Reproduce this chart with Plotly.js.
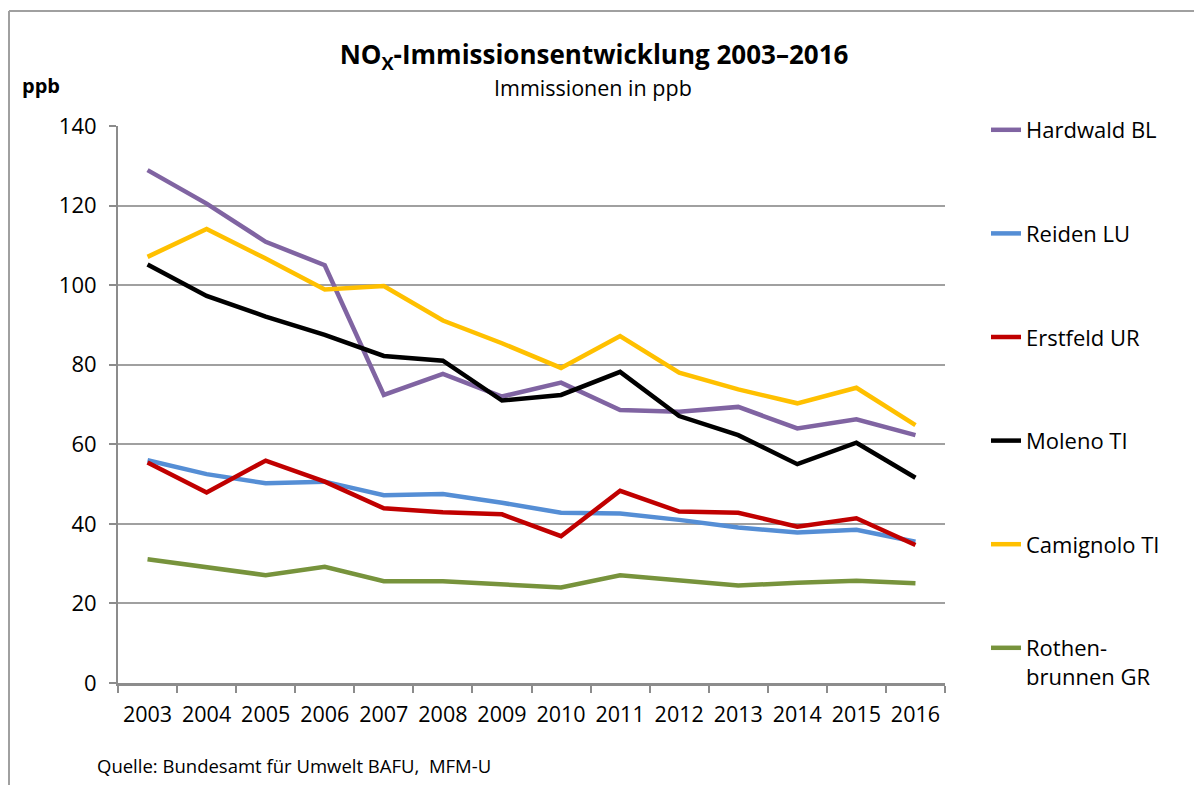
<!DOCTYPE html>
<html>
<head>
<meta charset="utf-8">
<script src="https://cdn.plot.ly/plotly-3.0.1.min.js"></script>
<style>html,body{margin:0;padding:0;background:#fff;}#chart{width:1194px;height:785px;}</style>
</head>
<body>
<div id="chart"></div>
<script>
const years = ["2003","2004","2005","2006","2007","2008","2009","2010","2011","2012","2013","2014","2015","2016"];
const seriesNames = ["Hardwald BL","Reiden LU","Erstfeld UR","Moleno TI","Camignolo TI","Rothen-<br>brunnen GR"];
const hardwald = [128.9,120.5,110.9,105.0,72.4,77.7,72.0,75.5,68.6,68.2,69.4,64.0,66.3,62.3];
const reiden = [56.0,52.5,50.2,50.6,47.2,47.5,45.3,42.8,42.6,41.0,39.1,37.8,38.5,35.5];
const erstfeld = [55.4,47.9,55.9,50.6,43.9,42.9,42.4,36.9,48.3,43.1,42.8,39.3,41.4,34.7];
const moleno = [105.2,97.3,92.1,87.5,82.2,81.0,71.0,72.4,78.2,67.1,62.3,55.0,60.4,51.6];
const camignolo = [107.1,114.1,106.7,98.9,99.8,91.1,85.4,79.2,87.2,78.0,73.8,70.3,74.2,64.8];
const rothenbrunnen = [31.1,29.2,27.1,29.2,25.6,25.6,24.8,24.0,27.1,25.9,24.5,25.2,25.7,25.1];
const seriesValues = [hardwald, reiden, erstfeld, moleno, camignolo, rothenbrunnen];
const colors = ["#8064A2","#558ED5","#C00000","#000000","#FFC000","#77933C"];

const FONT = "Open Sans, Noto Sans, sans-serif";

const traces = seriesValues.map((vals, i) => ({
  type: "scatter",
  mode: "lines",
  x: years,
  y: vals,
  name: seriesNames[i],
  legendgroup: "g" + i,
  line: {color: colors[i], width: 4.5},
  hoverinfo: "skip"
}));

const px = v => (v - 118) / 827;
const py = v => (683 - v) / 557;

const layout = {
  width: 1194,
  height: 785,
  margin: {l: 118, r: 249, t: 126, b: 102, pad: 0},
  paper_bgcolor: "#ffffff",
  plot_bgcolor: "#ffffff",
  font: {family: FONT, color: "#000000", size: 20},
  showlegend: true,
  title: {
    text: "<b>NO<sub>X</sub>-Immissionsentwicklung 2003–2016</b>",
    font: {family: FONT, size: 26, color: "#000000"},
    xref: "paper", x: px(594), xanchor: "center",
    yref: "container", y: 1 - 55 / 785, yanchor: "middle"
  },
  xaxis: {
    type: "category",
    range: [-0.5, 13.5],
    showgrid: false,
    zeroline: false,
    showline: true,
    linecolor: "#8C8C8C",
    linewidth: 3,
    ticks: "outside",
    tickson: "boundaries",
    ticklen: 7,
    tickwidth: 2,
    tickcolor: "#8C8C8C",
    tickangle: 0,
    tickfont: {family: FONT, size: 21.5, color: "#000000"},
    ticklabelstandoff: 10,
    fixedrange: true
  },
  yaxis: {
    range: [0, 140],
    tick0: 0,
    dtick: 20,
    showgrid: true,
    gridcolor: "#A0A0A0",
    gridwidth: 2,
    zeroline: false,
    showline: true,
    linecolor: "#8C8C8C",
    linewidth: 2,
    ticks: "outside",
    ticklen: 7,
    tickwidth: 2,
    tickcolor: "#8C8C8C",
    tickfont: {family: FONT, size: 22, color: "#000000"},
    ticklabelstandoff: 8,
    fixedrange: true
  },
  legend: {
    x: px(986), xanchor: "left",
    y: py(109), yanchor: "top",
    font: {family: FONT, size: 22, color: "#000000"},
    traceorder: "grouped",
    tracegroupgap: 72,
    valign: "top",
    maxheight: 700,
    bgcolor: "rgba(0,0,0,0)",
    borderwidth: 0
  },
  annotations: [
    {text: "Immissionen in ppb", xref: "paper", yref: "paper", x: px(593), y: py(88), xanchor: "center", yanchor: "middle", showarrow: false, font: {family: FONT, size: 21.5, color: "#000000"}},
    {text: "<b>ppb</b>", xref: "paper", yref: "paper", x: px(20), y: py(86), xanchor: "left", yanchor: "middle", showarrow: false, font: {family: FONT, size: 20, color: "#000000"}},
    {text: "Quelle: Bundesamt für Umwelt BAFU,  MFM-U", xref: "paper", yref: "paper", x: px(95), y: py(765), xanchor: "left", yanchor: "middle", showarrow: false, font: {family: FONT, size: 18.5, color: "#000000"}}
  ],
  shapes: [
    {type: "line", xref: "paper", yref: "paper", x0: px(9), x1: px(1194), y0: py(11), y1: py(11), line: {color: "#A0A0A0", width: 2}},
    {type: "line", xref: "paper", yref: "paper", x0: px(9), x1: px(9), y0: py(11), y1: py(785), line: {color: "#A0A0A0", width: 2}}
  ]
};

Plotly.newPlot("chart", traces, layout, {displayModeBar: false, staticPlot: true});
</script>
</body>
</html>
